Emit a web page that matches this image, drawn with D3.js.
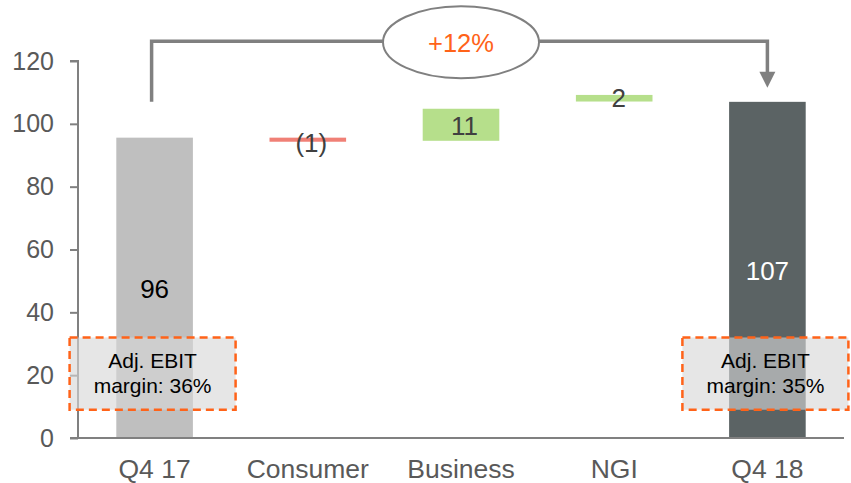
<!DOCTYPE html>
<html>
<head>
<meta charset="utf-8">
<script src="https://cdn.jsdelivr.net/npm/d3@7"></script>
<style>
  body { margin: 0; background: #fff; }
  text { font-family: "Liberation Sans", Arial, sans-serif; }
</style>
</head>
<body>
<script>
// categories and the bar spans
var categories = ["Q4 17", "Consumer", "Business", "NGI", "Q4 18"];
var barLow  = [0, 94.3, 94.6, 107.1, 0];
var barHigh = [95.6, 95.6, 104.8, 109.2, 107];
var barLabels = ["96", "(1)", "11", "2", "107"];
var barColors = ["#bfbfbf", "#f08076", "#b6df8b", "#b6df8b", "#5b6364"];
var labelColors = ["#000", "#404040", "#404040", "#404040", "#fff"];
var labelValues = [47.6, 93.8, 99.2, 108.4, 53.2];
var labelShift = [0, 3.5, 3.5, 4.5, 0];
var yTicks = [0, 20, 40, 60, 80, 100, 120];
var marginNotes = [["Q4 17", "Adj. EBIT", "margin: 36%"], ["Q4 18", "Adj. EBIT", "margin: 35%"]];
var growth = "+12%";

var W = 851, H = 483;
var svg = d3.select("body").append("svg").attr("width", W).attr("height", H);

var x = d3.scaleBand().domain(categories).range([78, 844]).paddingInner(0.5).paddingOuter(0.25);
var y = d3.scaleLinear().domain([0, 120]).range([438, 61]);

// y axis
var yAxis = d3.axisLeft(y).tickValues(yTicks).tickSize(8).tickPadding(16);
var gy = svg.append("g").attr("transform", "translate(78,0)").call(yAxis);
gy.select(".domain").attr("stroke", "#808080").attr("stroke-width", 2).attr("d", "M-8," + y(120) + "H0V" + y(0));
gy.selectAll(".tick line").attr("stroke", "#808080").attr("stroke-width", 2);
gy.selectAll(".tick text").attr("fill", "#595959").style("font-size", "25px")
  .style("font-family", "Liberation Sans, Arial, sans-serif");

// bars
svg.selectAll("rect.bar")
  .data(categories)
  .enter().append("rect")
  .attr("class", "bar")
  .attr("x", function (d) { return x(d); })
  .attr("width", x.bandwidth())
  .attr("y", function (d, i) { return y(barHigh[i]); })
  .attr("height", function (d, i) { return y(barLow[i]) - y(barHigh[i]); })
  .attr("fill", function (d, i) { return barColors[i]; });

// x axis
var xAxis = d3.axisBottom(x).tickSize(0).tickPadding(21);
var gx = svg.append("g").attr("transform", "translate(0," + y(0) + ")").call(xAxis);
gx.select(".domain").attr("stroke", "#808080").attr("stroke-width", 2).attr("d", "M70,0H844");
gx.selectAll(".tick text").attr("fill", "#595959").style("font-size", "26.5px")
  .style("font-family", "Liberation Sans, Arial, sans-serif");

// value labels
svg.selectAll("text.val")
  .data(categories)
  .enter().append("text")
  .attr("class", "val")
  .attr("x", function (d, i) { return x(d) + x.bandwidth() / 2 + labelShift[i]; })
  .attr("y", function (d, i) { return y(labelValues[i]); })
  .attr("dy", "0.35em")
  .attr("text-anchor", "middle")
  .attr("fill", function (d, i) { return labelColors[i]; })
  .style("font-size", "26px")
  .text(function (d, i) { return barLabels[i]; });

// margin boxes
var boxes = svg.selectAll("g.note").data(marginNotes).enter().append("g").attr("class", "note");
boxes.append("rect")
  .attr("x", function (d) { return x(d[0]) + x.bandwidth() / 2 - 85; })
  .attr("y", y(32))
  .attr("width", 166)
  .attr("height", y(9) - y(32))
  .attr("fill", "rgba(215,215,215,0.62)")
  .attr("stroke", "#ff6319")
  .attr("stroke-width", 2.5)
  .attr("stroke-dasharray", "8,5");
boxes.each(function (d) {
  var cx = x(d[0]) + x.bandwidth() / 2 - 2;
  d3.select(this).append("text").attr("x", cx).attr("y", 368).attr("text-anchor", "middle")
    .attr("fill", "#000").style("font-size", "21px").text(d[1]);
  d3.select(this).append("text").attr("x", cx).attr("y", 393).attr("text-anchor", "middle")
    .attr("fill", "#000").style("font-size", "21px").text(d[2]);
});

// growth bracket with arrow
var x0 = x("Q4 17") + x.bandwidth() / 2 - 3, x1 = x("Q4 18") + x.bandwidth() / 2;
var yTop = y(126.3), yStart = y(107), yTip = y(111.5);
svg.append("path")
  .attr("d", "M" + x0 + "," + yStart + "V" + yTop + "H" + x1 + "V" + (yTip - 14))
  .attr("fill", "none").attr("stroke", "#808080").attr("stroke-width", 3.5);
svg.append("path")
  .attr("d", "M" + (x1 - 8) + "," + (yTip - 16) + "L" + (x1 + 8) + "," + (yTip - 16) + "L" + x1 + "," + yTip + "Z")
  .attr("fill", "#808080");
var ex = (x("Business") + x.bandwidth() / 2);
svg.append("ellipse")
  .attr("cx", ex).attr("cy", yTop + 1).attr("rx", 78).attr("ry", 36)
  .attr("fill", "#fff").attr("stroke", "#808080").attr("stroke-width", 2);
svg.append("text")
  .attr("x", ex).attr("y", yTop + 2).attr("dy", "0.35em")
  .attr("text-anchor", "middle").attr("fill", "#ff6319")
  .style("font-size", "25.5px").text(growth);
</script>
</body>
</html>
